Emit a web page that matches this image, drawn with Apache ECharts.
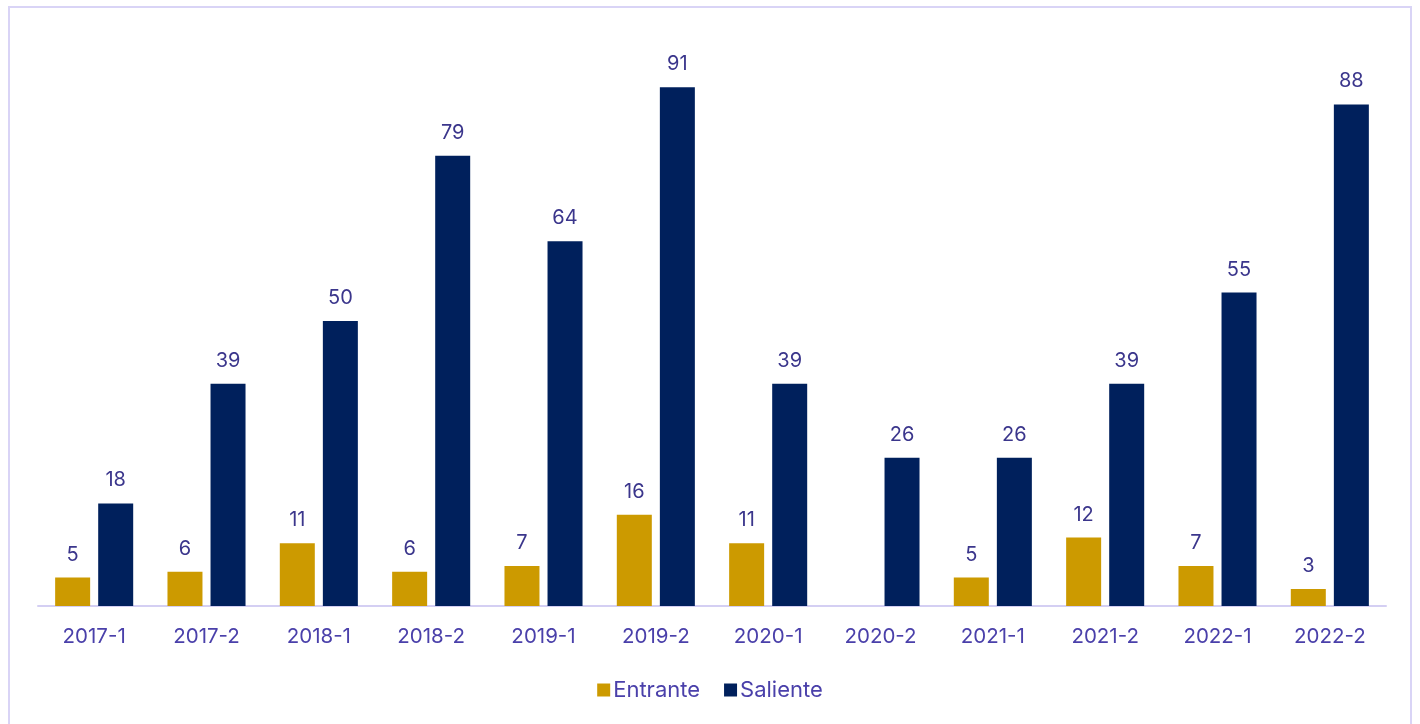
<!DOCTYPE html>
<html>
<head>
<meta charset="utf-8">
<script src="https://cdn.jsdelivr.net/npm/echarts@6/dist/echarts.min.js"></script>
<style>
    html, body { margin: 0; padding: 0; background: #fff; }
    #frame { position: absolute; left: 8px; top: 6px; width: 1404px; height: 740px; border: 2px solid #d9d4f6; box-sizing: border-box; }
    #chart { position: absolute; left: 0; top: 0; width: 1420px; height: 724px; }
</style>
</head>
<body>
<div id="frame"></div>
<div id="chart"></div>
<script>
// categories and values
const periods = ['2017-1', '2017-2', '2018-1', '2018-2', '2019-1', '2019-2', '2020-1', '2020-2', '2021-1', '2021-2', '2022-1', '2022-2'];
const entrante = [5, 6, 11, 6, 7, 16, 11, 0, 5, 12, 7, 3];
const saliente = [18, 39, 50, 79, 64, 91, 39, 26, 26, 39, 55, 88];

let myChart = echarts.init(document.getElementById('chart'));

const labelStyle = {
    show: true,
    position: 'top',
    distance: 13,
    color: '#3b368c',
    fontSize: 20,
    fontFamily: 'Inter',
    formatter: function (p) {
        return p.value > 0 ? p.value : '';
    }
};

myChart.setOption({
    animation: false,
    grid: {
        top: 36,
        bottom: 118,
        left: 38,
        right: 34
    },
    legend: {
        bottom: 18,
        left: 'center',
        itemWidth: 13,
        itemHeight: 13,
        itemGap: 24,
        icon: 'rect',
        textStyle: { color: '#4a40aa', fontSize: 22, fontFamily: 'Inter', padding: [0, 0, 0, -2] },
        data: ['Entrante', 'Saliente']
    },
    xAxis: {
        type: 'category',
        data: periods,
        axisLine: { lineStyle: { color: '#d4cff3', width: 2 } },
        axisTick: { show: false },
        axisLabel: { color: '#4a40aa', fontSize: 20.5, fontFamily: 'Inter', margin: 20 }
    },
    yAxis: {
        type: 'value',
        min: 0,
        max: 100,
        show: false,
        splitLine: { show: false }
    },
    series: [
        {
            name: 'Entrante',
            type: 'bar',
            data: entrante,
            barWidth: 35,
            barGap: '23%',
            itemStyle: { color: '#cc9a00' },
            label: labelStyle
        },
        {
            name: 'Saliente',
            type: 'bar',
            data: saliente,
            barWidth: 35,
            itemStyle: { color: '#00205c' },
            label: labelStyle
        }
    ]
});
</script>
</body>
</html>
